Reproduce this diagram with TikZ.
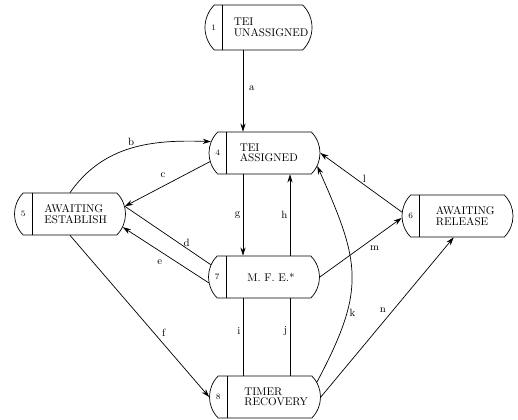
\documentclass[tikz,border=0pt]{standalone}
\usepackage{tikz}
\usetikzlibrary{arrows.meta, positioning, calc, shapes.misc}

\begin{document}
\begin{tikzpicture}[x=0.03cm, y=0.03cm,
    state/.style={draw, line width=0.6pt, rounded rectangle,
      rounded rectangle arc length=90, minimum width=3.33cm,
      minimum height=1.26cm, inner sep=0pt},
    statenum/.style={font=\scriptsize, inner sep=0pt},
    statetext/.style={anchor=west, align=left, inner sep=0pt,
      font=\fontsize{9.5}{9}\selectfont},
    link/.style={line width=0.6pt, -{Stealth[length=7pt, width=4.5pt]}},
    bare/.style={line width=0.6pt},
    lbl/.style={font=\small, inner sep=2pt}]

  % --- GEOMETRIC VARIABLES ---
  \def\Div{18}
  \useasboundingbox (0,0) rectangle (518,420);
  \coordinate (LeftCol) at (243,0);
  \coordinate (RightCol) at (290,0);

  % =====================================================================
  % 1. STATES
  % =====================================================================
  \node[state, minimum width=3.21cm, minimum height=1.35cm] (Unassigned) at (258.5,392.5) {};
  \node[state] (Assigned) at (264.5,267) {};
  \node[state] (AwaitEst) at (70,206) {};
  \node[state] (AwaitRel) at (457.5,204) {};
  \node[state] (MFE) at (264,143) {};
  \node[state] (TimerRec) at (265,23) {};

  % Number column on the left of each state
  \foreach \Name/\Num in {Unassigned/1, Assigned/4, AwaitEst/5, AwaitRel/6, MFE/7, TimerRec/8} {
    \coordinate (\Name-div) at ($(\Name.west)+(\Div,0)$);
    \draw[bare] (\Name-div |- \Name.north) -- (\Name-div |- \Name.south);
    \node[statenum] (\Name-num) at ($(\Name.west)!0.5!(\Name-div)$) {\Num};
  }

  % State names
  \node[statetext] (Unassigned-txt) at ($(Unassigned.west)+(29,0)$) {TEI\\UNASSIGNED};
  \node[statetext] (Assigned-txt) at ($(Assigned.west)+(31,0)$) {TEI\\ASSIGNED};
  \node[statetext] (AwaitEst-txt) at ($(AwaitEst.west)+(30,0)$) {AWAITING\\ESTABLISH};
  \node[statetext] (AwaitRel-txt) at ($(AwaitRel.west)+(34,0)$) {AWAITING\\RELEASE};
  \node[statetext] (MFE-txt) at ($(MFE.west)+(39,0)$) {M. F. E.*};
  \node[statetext] (TimerRec-txt) at ($(TimerRec.west)+(35,0)$) {TIMER\\RECOVERY};

  % =====================================================================
  % 2. TRANSITIONS
  % =====================================================================
  % Vertical ones
  \draw[link] (Unassigned.south -| LeftCol) -- node[lbl, pos=0.46, right=3pt] {a} (Assigned.north -| LeftCol);
  \draw[link] (Assigned.south -| LeftCol) -- node[lbl, pos=0.5, left] {g} (MFE.north -| LeftCol);
  \draw[link] (MFE.north -| RightCol) -- node[lbl, pos=0.5, left] {h} (Assigned.south -| RightCol);
  \draw[bare] (MFE.south -| LeftCol) -- node[lbl, pos=0.42, left] {i} (TimerRec.north -| LeftCol);
  \draw[bare] (TimerRec.north -| RightCol) -- node[lbl, pos=0.58, left] {j} (MFE.south -| RightCol);

  % Towards AWAITING ESTABLISH
  \draw[link] (AwaitEst.north) to[out=55, in=178] node[lbl, pos=0.5, above] {b} (Assigned.168);
  \draw[link] (Assigned.189) -- node[lbl, pos=0.55, above=5pt] {c} (AwaitEst.8);
  \draw[bare] (MFE.167) -- node[lbl, pos=0.28, above, inner sep=1pt] {d} (AwaitEst.8);
  \draw[link] (MFE.186) -- node[lbl, pos=0.57, below=5pt] {e} (AwaitEst.-14);
  \draw[link] (AwaitEst.south) -- node[lbl, pos=0.6, right=5pt] {f} (TimerRec.west);

  % Right hand side
  \draw[link] (TimerRec.16) to[out=62, in=-66, looseness=1.25] node[lbl, pos=0.3, right] {k} (Assigned.-14);
  \draw[link] (AwaitRel.176) -- node[lbl, pos=0.46, above] {l} (Assigned.east);
  \draw[link] (MFE.east) -- node[lbl, pos=0.67, below=5pt] {m} (AwaitRel.182);
  \draw[link] (TimerRec.east) -- node[lbl, pos=0.51, above left] {n} (AwaitRel.260);

\end{tikzpicture}
\end{document}
